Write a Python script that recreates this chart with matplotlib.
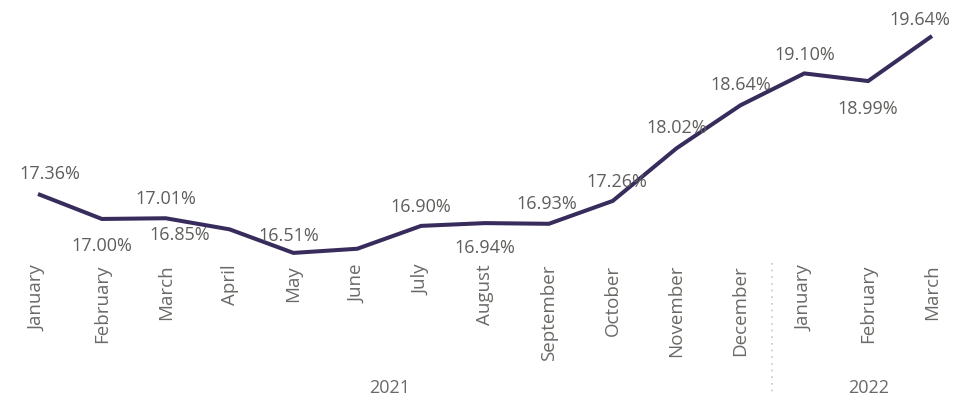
import numpy as np
import matplotlib
matplotlib.use("Agg")
import matplotlib.pyplot as plt
from matplotlib.transforms import blended_transform_factory

plt.rcParams['font.family'] = ['Open Sans', 'DejaVu Sans']

# Monthly rate, Jan 2021 - Mar 2022
months = ["January", "February", "March", "April", "May", "June", "July",
          "August", "September", "October", "November", "December",
          "January", "February", "March"]
years = ["2021", "2022"]
year_counts = [12, 3]
rate = [17.36, 17.00, 17.01, 16.85, 16.51, 16.57, 16.90,
        16.94, 16.93, 17.26, 18.02, 18.64, 19.10, 18.99, 19.64]
# June's label is suppressed (collides with neighbours)
show_label = [True] * 15
show_label[5] = False

# label offsets from the point, in pixels (x right, y down)
label_offsets = [(12, -20), (0, 27), (0, -19), (-50, 6), (-5, -17), (0, 0),
                 (0, -19), (0, 25), (-2, -20), (4, -19), (0, -20), (0, -20),
                 (0, -18), (0, 28), (-12, -16)]

LINE_COLOR = "#382c5c"
TEXT_COLOR = "#605e5c"
AXIS_TEXT = "#6b6966"

fig = plt.figure(figsize=(9.55, 4.01), dpi=100)
ax = fig.add_axes([0.0, 1 - 260 / 401, 1.0, 260 / 401])

x = np.arange(len(months))
ax.plot(x, rate, color=LINE_COLOR, lw=2.9, solid_joinstyle='miter',
        solid_capstyle='butt', zorder=3)

px2pt = 72 / 100
for i, v in enumerate(rate):
    if not show_label[i]:
        continue
    dx, dy = label_offsets[i]
    ax.annotate(f"{v:.2f}%", (i, v), xytext=(dx * px2pt, -dy * px2pt),
                textcoords="offset points", ha="center", va="center",
                fontsize=13, color=TEXT_COLOR, zorder=4)

ax.set_xlim(-38 / 63.86, 14 + 23 / 63.86)
ax.set_ylim(17.36 - 66 / 69.3, 17.36 + 194 / 69.3)

ax.set_xticks(x)
ax.set_xticklabels(months, rotation=90, fontsize=13.5, color=AXIS_TEXT)
ax.tick_params(axis='x', length=0, pad=3.5)
ax.set_yticks([])
for s in ax.spines.values():
    s.set_visible(False)

# year group labels and separator under the month axis
trans = blended_transform_factory(ax.transData, ax.transAxes)
start = 0
for yr, n in zip(years, year_counts):
    mid = start + (n - 1) / 2
    ax.text(mid, (260 - 388) / 260, yr, transform=trans, ha="center",
            va="center", fontsize=13, color=AXIS_TEXT, clip_on=False)
    start += n
ax.plot([11.5, 11.5], [-3 / 260, -135 / 260], transform=trans,
        color="#c8c6c4", lw=1.2, ls=(0, (1, 3)), clip_on=False)

fig.savefig("out.png", dpi=100, facecolor="white")
